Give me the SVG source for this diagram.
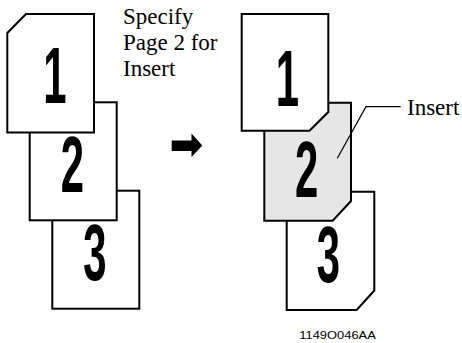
<svg xmlns="http://www.w3.org/2000/svg" width="462" height="343" viewBox="0 0 462 343">
<style>
.pg{fill:#fff;stroke:#000;stroke-width:2;stroke-linejoin:miter}
.gray{fill:#e6e6e6}
.dg{font-family:"Liberation Sans",Arial,sans-serif;font-weight:bold;font-size:79px;text-anchor:middle;fill:#000}
.lb{font-family:"Liberation Serif","Times New Roman",serif;font-size:23px;fill:#000}
.cap{font-family:"Liberation Sans",Arial,sans-serif;font-size:10.5px;fill:#000}
.ld{fill:none;stroke:#000;stroke-width:1.2}
</style>
<g id="left-page3">
<rect class="pg" x="52.3" y="190.7" width="87" height="118"/>
<text class="dg" transform="translate(95,280) scale(0.53,1)">3</text>
</g>
<g id="left-page2">
<rect class="pg" x="29.7" y="102.3" width="87" height="118"/>
<text class="dg" transform="translate(72.5,191.7) scale(0.53,1)">2</text>
</g>
<g id="left-page1">
<path class="pg" d="M26,14 H94 V132.5 H7.3 V33 Z"/>
<text class="dg" transform="translate(55,102.7) scale(0.53,1)">1</text>
</g>
<g id="instruction">
<text class="lb" x="123" y="23.5">Specify</text>
<text class="lb" x="123" y="50">Page 2 for</text>
<text class="lb" x="123" y="76">Insert</text>
</g>
<g id="arrow">
<path d="M171.7,140.5 H191.5 V133.5 L202.3,145.5 L191.5,157 V151 H171.7 Z" fill="#000"/>
</g>
<g id="right-page3">
<path class="pg" d="M286.7,191.7 H374.3 V290.5 L356.7,310 H286.7 Z"/>
<text class="dg" transform="translate(328.3,281.7) scale(0.53,1)">3</text>
</g>
<g id="right-page2">
<path class="pg gray" d="M264.3,102.7 H351 V201 L332.7,220.7 H264.3 Z"/>
<text class="dg" transform="translate(306.7,196.7) scale(0.53,1)">2</text>
</g>
<g id="right-page1">
<path class="pg" d="M241.7,14 H328.3 V112 L309.5,130.7 H241.7 Z"/>
<text class="dg" transform="translate(287.4,106) scale(0.53,1)">1</text>
</g>
<g id="connectors">
<path class="ld" d="M337.3,158.3 L366,106.7 H400.7"/>
</g>
<g id="insert-label">
<text class="lb" x="407" y="114.5">Insert</text>
</g>
<g id="caption">
<text class="cap" x="299.3" y="339" textLength="76.5" lengthAdjust="spacingAndGlyphs">1149O046AA</text>
</g>
</svg>
